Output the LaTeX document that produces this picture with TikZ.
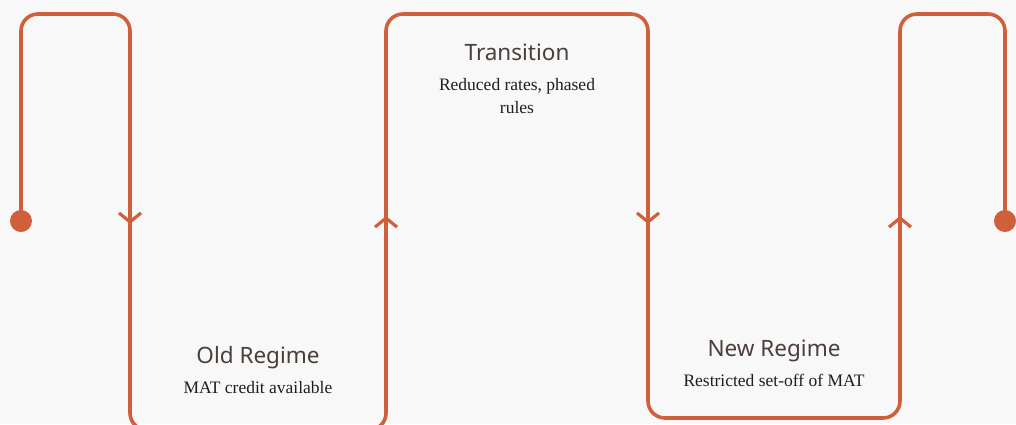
\documentclass[tikz,border=0pt]{standalone}
\usepackage{fontspec}
\setmainfont{Liberation Serif}
\newfontfamily\headfont{Noto Sans}
\usetikzlibrary{arrows.meta, positioning}
\definecolor{rust}{HTML}{D0603C}
\definecolor{paper}{HTML}{F8F8F8}
\definecolor{inkbrown}{HTML}{4A3F3A}
\definecolor{inkdark}{HTML}{1E1E1E}

\begin{document}
\begin{tikzpicture}[
    x=1pt, y=-1pt,
    % styles
    track/.style={draw=rust, line width=3.6pt, rounded corners=17pt},
    chevron/.style={draw=rust, line width=3.2pt, -{Straight Barb[length=9pt, width=22pt]}},
    enddot/.style={circle, fill=rust, minimum size=22pt, inner sep=0pt},
    phase_title/.style={font=\headfont\fontsize{22.5}{27}\selectfont, text=inkbrown,
        inner sep=0pt, text height=16pt, text depth=5pt},
    phase_note/.style={font=\fontsize{17.5}{23}\selectfont, text=inkdark, align=center,
        inner sep=0pt}
]

    % --- canvas ---
    \fill[paper] (0,0) rectangle (1016,424);
    \clip (0,0) rectangle (1016,424);

    % --- end points and turning points ---
    \node[enddot] (start) at (21,221) {};
    \node[enddot] (finish) at (1005,221) {};
    \coordinate (a1) at (21,14);
    \coordinate (a2) at (130,14);
    \coordinate (b1) at (130,430);
    \coordinate (b2) at (386,430);
    \coordinate (c1) at (386,14);
    \coordinate (c2) at (648,14);
    \coordinate (d1) at (648,418);
    \coordinate (d2) at (900,418);
    \coordinate (e1) at (900,14);
    \coordinate (e2) at (1005,14);

    % --- the serpentine track ---
    \draw[track] (start.center) -- (a1) -- (a2) -- (b1) -- (b2) -- (c1) -- (c2)
        -- (d1) -- (d2) -- (e1) -- (e2) -- (finish.center);

    % --- direction marks ---
    \coordinate (m1) at (130,224);
    \coordinate (m2) at (386,216);
    \coordinate (m3) at (648,224);
    \coordinate (m4) at (900,216);
    \draw[chevron] (m1) ++(0,-14) -- (m1);
    \draw[chevron] (m2) ++(0,14) -- (m2);
    \draw[chevron] (m3) ++(0,-14) -- (m3);
    \draw[chevron] (m4) ++(0,14) -- (m4);

    % --- phase labels ---
    \node[phase_title] (old_title) at (258,357.5) {Old Regime};
    \node[phase_note, below=13pt of old_title] (old_note) {MAT credit available};

    \node[phase_title] (trans_title) at (517,54.5) {Transition};
    \node[phase_note, below=13pt of trans_title] (trans_note) {Reduced rates, phased\\rules};

    \node[phase_title] (new_title) at (774,350.5) {New Regime};
    \node[phase_note, below=13pt of new_title] (new_note) {Restricted set-off of MAT};

\end{tikzpicture}
\end{document}
